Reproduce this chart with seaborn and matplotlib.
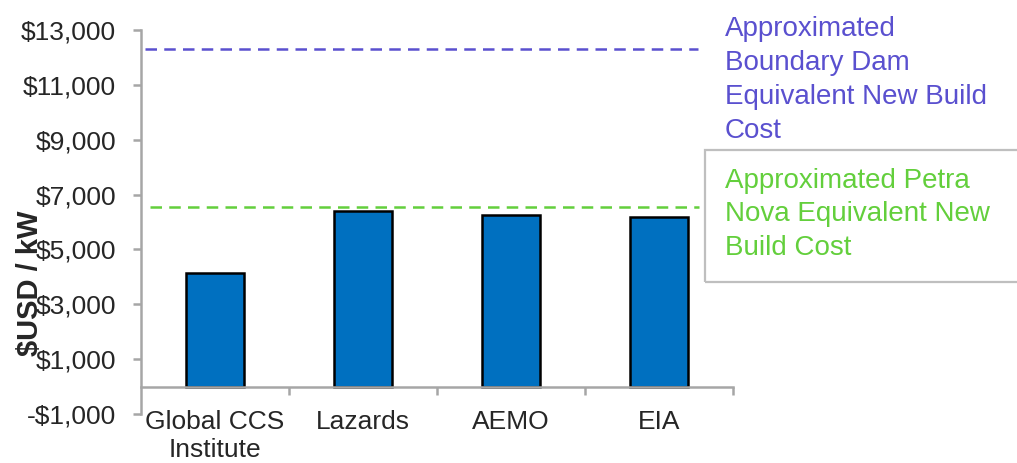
import numpy as np
import pandas as pd
import seaborn as sns
import matplotlib.pyplot as plt
from matplotlib.patches import Rectangle
from matplotlib.ticker import FuncFormatter

# values ($USD / kW)
sources      = ['Global CCS\nInstitute', 'Lazards', 'AEMO', 'EIA']
costs        = [4150, 6390, 6270, 6170]
boundary_dam = 12300
petra_nova   = 6560
yticks       = [-1000, 1000, 3000, 5000, 7000, 9000, 11000, 13000]

bar_color    = '#0070C0'
purple       = '#5A50CF'
green        = '#63CF3C'
axis_gray    = '#A6A6A6'
text_color   = '#262626'

sns.set_theme(style='white')
plt.rcParams['font.family'] = ['Liberation Sans', 'DejaVu Sans']

df = pd.DataFrame({'Source': sources, 'Cost': costs})

fig = plt.figure(figsize=(10.17, 4.63), dpi=100)
ax  = fig.add_axes([0.1386, 0.1058, 0.5822, 0.8294])

sns.barplot(data=df, x='Source', y='Cost', color=bar_color, width=0.39,
            edgecolor='black', linewidth=1.8, saturation=1, ax=ax)

ax.hlines(boundary_dam, -0.47, 3.26, colors=purple, linestyles=(0, (4.6, 2.9)), linewidth=1.8)
ax.hlines(petra_nova, -0.44, 3.27, colors=green, linestyles=(0, (4.6, 2.9)), linewidth=1.8)

ax.set_xlim(-0.5, 3.5)
ax.set_ylim(-1000, 13000)
ax.set_yticks(yticks)
ax.yaxis.set_major_formatter(FuncFormatter(lambda v, p: '-${:,.0f}'.format(-v) if v < 0 else '${:,.0f}'.format(v)))

# category boundaries get tick marks, centres get the labels
ax.set_xticks([0.5, 1.5, 2.5, 3.5])
ax.set_xticklabels([])
ax.set_xticks(range(len(sources)), minor=True)
ax.set_xticklabels(sources, minor=True, color=text_color, linespacing=1.3)
ax.tick_params(axis='x', which='major', bottom=True, length=6, width=1.8,
               color=axis_gray, direction='out')
ax.tick_params(axis='x', which='minor', bottom=True, length=0, pad=17, labelsize=19)
ax.tick_params(axis='y', left=True, length=6, width=1.8, color=axis_gray, direction='out',
               labelsize=19, labelcolor=text_color, pad=12)

for side in ['top', 'right']:
    ax.spines[side].set_visible(False)
ax.spines['bottom'].set_position(('data', 0))
for side in ['left', 'bottom']:
    ax.spines[side].set_color(axis_gray)
    ax.spines[side].set_linewidth(1.8)

ax.set_xlabel('')
ax.set_ylabel('$USD / kW', fontsize=21, fontweight='bold', color=text_color)
ax.yaxis.set_label_coords(-0.163, 0.34)

# right-hand annotations
fig.text(725 / 1017, 1 - 16 / 463, 'Approximated\nBoundary Dam\nEquivalent New Build\nCost',
         color=purple, fontsize=20, va='top', ha='left', linespacing=1.4)
fig.patches.append(Rectangle((705 / 1017, 1 - 282 / 463), 330 / 1017, 132 / 463,
                             transform=fig.transFigure, fill=False,
                             edgecolor='#BFBFBF', linewidth=1.6))
fig.text(725 / 1017, 1 - 168 / 463, 'Approximated Petra\nNova Equivalent New\nBuild Cost',
         color=green, fontsize=20, va='top', ha='left', linespacing=1.37)

fig.savefig('out.png', dpi=100)
